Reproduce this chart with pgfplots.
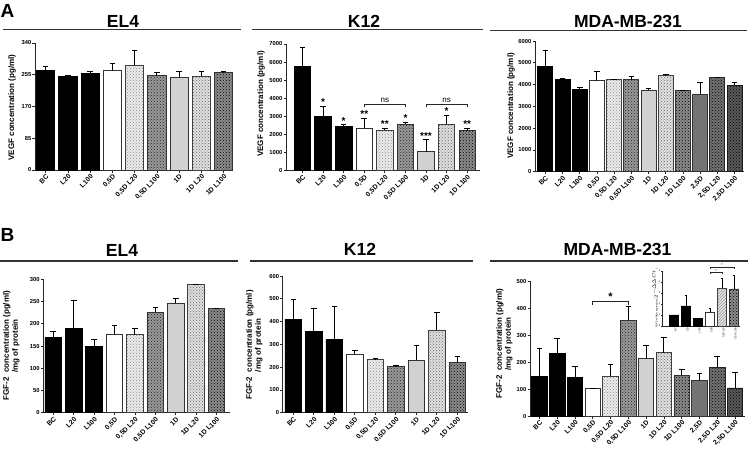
\documentclass[border=0pt]{standalone}
\usepackage{pgfplots}
\pgfplotsset{compat=1.18}
\usetikzlibrary{patterns}
\usepackage{fontspec}
\setmainfont{Liberation Sans}
\newcommand{\fs}[1]{\fontsize{#1}{#1}\selectfont}
\tikzset{
 bK/.style={fill=black,draw=black},
 bW/.style={fill=white,draw=black!80},
 bDL/.style={fill=black!8,draw=black!75,postaction={pattern=crosshatch dots,pattern color=black!45}},
 bST/.style={fill=black!40,draw=black!80,postaction={pattern=crosshatch dots,pattern color=black!85}},
 bG/.style={fill=black!18,draw=black!80},
 bDM/.style={fill=black!12,draw=black!75,postaction={pattern=crosshatch dots,pattern color=black!60}},
 bCK/.style={fill=black!45,draw=black!80,postaction={pattern=crosshatch dots,pattern color=black}},
 bMG/.style={fill=black!55,draw=black!80},
 bCK2/.style={fill=black!55,draw=black!85,postaction={pattern=crosshatch dots,pattern color=black}},
 bCK3/.style={fill=black!65,draw=black!90,postaction={pattern=crosshatch dots,pattern color=black}},
}
\pgfplotsset{
 gp/.style={
  scale only axis, anchor=south west,
  axis x line*=bottom, axis y line*=left,
  axis line style={line width=0.9pt, black!85},
  ymin=0, enlargelimits=false, clip=false,
  tick align=outside, major tick length=2.5pt,
  every tick/.append style={line width=0.8pt, black!85},
  ybar, every axis plot/.append style={bar shift=0pt, line width=0.8pt},
  error bars/y dir=plus, error bars/y explicit,
  error bars/error bar style={line width=0.9pt, black},
  error bars/error mark options={rotate=90, mark size=2.8pt, line width=0.9pt, black},
  y tick label style={font=\fs{5.8}\bfseries, inner sep=1pt},
  x tick label style={font=\fs{6.8}\bfseries, rotate=45, anchor=north east, inner sep=0.8pt},
  /pgf/number format/assume math mode=true, /pgf/number format/1000 sep={},
 }
}
\begin{document}
\begin{tikzpicture}[x=1pt,y=1pt]
\useasboundingbox (0,0) rectangle (749,451);
% ---------- panel letters, titles, lines ----------
\begin{scope}[every node/.style={inner sep=0pt}]
\node[font=\fs{19}\bfseries] at (7.5,440) {A};
\node[font=\fs{19}\bfseries] at (7.5,216) {B};
\node[font=\fs{17.5}\bfseries] at (123,429.3) {EL4};
\node[font=\fs{17.5}\bfseries] at (364,429.5) {K12};
\node[font=\fs{17.5}\bfseries] at (628,429.5) {MDA-MB-231};
\node[font=\fs{17.5}\bfseries] at (122,200.5) {EL4};
\node[font=\fs{17.5}\bfseries] at (360,201.5) {K12};
\node[font=\fs{17.5}\bfseries] at (617.5,201.3) {MDA-MB-231};
\end{scope}
\draw[line width=1.3pt, black!80] (3,421.5) -- (241,421.5);
\draw[line width=1.3pt, black!80] (252,421.5) -- (483,421.5);
\draw[line width=1.3pt, black!80] (490,420.8) -- (747,420.8);
\draw[line width=1.3pt, black!80] (0,190) -- (238,190);
\draw[line width=1.3pt, black!80] (250,190) -- (473,190);
\draw[line width=1.3pt, black!80] (490,190) -- (748,190);
% ---------- y labels ----------
\node[rotate=90, font=\fs{8}\bfseries, inner sep=0pt] at (12,343.5) {VEGF concentration (pg/ml)};
\node[rotate=90, font=\fs{8}\bfseries, inner sep=0pt] at (261,347) {VEGF concentration (pg/ml)};
\node[rotate=90, font=\fs{8}\bfseries, inner sep=0pt] at (511,345) {VEGF concentration (pg/ml)};
\node[rotate=90, font=\fs{8}\bfseries, align=left, inner sep=0pt] at (11.2,105.5) {FGF-2\ \ concentration (pg/ml)\\[1pt]\phantom{FGF-2\ \ }/mg of protein};
\node[rotate=90, font=\fs{8}\bfseries, align=left, inner sep=0pt] at (254.2,106) {FGF-2\ \ concentration (pg/ml)\\[1pt]\phantom{FGF-2\ \ }/mg of protein};
\node[rotate=90, font=\fs{8}\bfseries, align=left, inner sep=0pt] at (504.2,107.5) {FGF-2\ \ concentration (pg/ml)\\[1pt]\phantom{FGF-2\ \ }/mg of protein};

% ================= A : EL4 =================
\begin{axis}[gp, at={(35pt,281pt)}, width=198pt, height=127pt,
 xmin=-0.48, xmax=8.42, ymax=340, ytick={0,85,170,255,340}, bar width=0.82,
 xtick={0,...,8}, xticklabels={BC,L20,L100,{0,5D},{0,5D L20},{0,5D L100},1D,{1D L20},{1D L100}}]
\addplot[bK] coordinates {(0,267) +- (0,10) (1,251) +- (0,3) (2,259) +- (0,5)};
\addplot[bW] coordinates {(3,266) +- (0,20)};
\addplot[bDL] coordinates {(4,280) +- (0,39)};
\addplot[bST] coordinates {(5,253) +- (0,7)};
\addplot[bG] coordinates {(6,249) +- (0,14)};
\addplot[bDM] coordinates {(7,251) +- (0,14)};
\addplot[bCK] coordinates {(8,260) +- (0,3)};
\end{axis}

% ================= A : K12 =================
\begin{axis}[gp, at={(286pt,280.5pt)}, width=194pt, height=126.5pt,
 xmin=-0.8, xmax=8.62, ymax=7000, ytick={0,1000,...,7000}, bar width=0.8,
 xtick={0,...,8}, xticklabels={BC,L20,L100,{0,5D},{0,5D L20},{0,5D L100},1D,{1D L20},{1D L100}}]
\addplot[bK] coordinates {(0,5750) +- (0,1070) (1,3010) +- (0,540) (2,2460) +- (0,70)};
\addplot[bW] coordinates {(3,2330) +- (0,550)};
\addplot[bDL] coordinates {(4,2220) +- (0,110)};
\addplot[bST] coordinates {(5,2550) +- (0,110)};
\addplot[bG] coordinates {(6,1035) +- (0,665)};
\addplot[bDM] coordinates {(7,2550) +- (0,520)};
\addplot[bCK] coordinates {(8,2200) +- (0,150)};
\begin{scope}[every node/.style={font=\fs{10}\bfseries, anchor=south, inner sep=0.5pt}]
\node at (axis cs:1,3550) {*};
\node at (axis cs:2,2530) {*};
\node at (axis cs:3,2880) {**};
\node at (axis cs:4,2330) {**};
\node at (axis cs:5,2660) {*};
\node at (axis cs:6,1700) {***};
\node at (axis cs:7,3070) {*};
\node at (axis cs:8,2350) {**};
\end{scope}
\draw[line width=0.8pt, black!85] (axis cs:3,3490) -- (axis cs:3,3680) -- (axis cs:5,3680) -- (axis cs:5,3490);
\draw[line width=0.8pt, black!85] (axis cs:6,3490) -- (axis cs:6,3680) -- (axis cs:8,3680) -- (axis cs:8,3490);
\node[font=\fs{8}, anchor=south, inner sep=1pt] at (axis cs:4,3680) {ns};
\node[font=\fs{8}, anchor=south, inner sep=1pt] at (axis cs:7,3680) {ns};
\end{axis}

% ================= A : MDA-MB-231 =================
\begin{axis}[gp, at={(535pt,279.3pt)}, width=209pt, height=130.7pt,
 xmin=-0.6, xmax=11.55, ymax=6000, ytick={0,1000,...,6000}, bar width=0.87,
 xtick={0,...,11}, xticklabels={BC,L20,L100,{0,5D},{0,5D L20},{0,5D L100},1D,{1D L20},{1D L100},{2,5D},{2,5D L20},{2,5D L100}}]
\addplot[bK] coordinates {(0,4820) +- (0,740) (1,4230) +- (0,40) (2,3770) +- (0,100)};
\addplot[bW] coordinates {(3,4180) +- (0,410)};
\addplot[bDL] coordinates {(4,4230) +- (0,10)};
\addplot[bST] coordinates {(5,4230) +- (0,130)};
\addplot[bG] coordinates {(6,3740) +- (0,70)};
\addplot[bDM] coordinates {(7,4430) +- (0,30)};
\addplot[bCK] coordinates {(8,3720) +- (0,30)};
\addplot[bMG] coordinates {(9,3550) +- (0,550)};
\addplot[bCK2] coordinates {(10,4320) +- (0,0)};
\addplot[bCK3] coordinates {(11,3980) +- (0,110)};
\end{axis}

% ================= B : EL4 =================
\begin{axis}[gp, at={(43.3pt,38.3pt)}, width=186.7pt, height=133.4pt,
 xmin=-0.49, xmax=8.66, ymax=300, ytick={0,50,...,300}, bar width=0.82,
 xtick={0,...,8}, xticklabels={BC,L20,L100,{0,5D},{0,5D L20},{0,5D L100},1D,{1D L20},{1D L100}}]
\addplot[bK] coordinates {(0,169) +- (0,13) (1,190) +- (0,62) (2,148) +- (0,16)};
\addplot[bW] coordinates {(3,177) +- (0,19)};
\addplot[bDL] coordinates {(4,175) +- (0,14)};
\addplot[bST] coordinates {(5,226) +- (0,11)};
\addplot[bG] coordinates {(6,246) +- (0,11)};
\addplot[bDM] coordinates {(7,288) +- (0,1)};
\addplot[bCK] coordinates {(8,235) +- (0,0)};
\end{axis}

% ================= B : K12 =================
\begin{axis}[gp, at={(282.7pt,38.3pt)}, width=185.3pt, height=136.7pt,
 xmin=-0.52, xmax=8.52, ymax=600, ytick={0,100,...,600}, bar width=0.82,
 xtick={0,...,8}, xticklabels={BC,L20,L100,{0,5D},{0,5D L20},{0,5D L100},1D,{1D L20},{1D L100}}]
\addplot[bK] coordinates {(0,410) +- (0,85) (1,358) +- (0,99) (2,320) +- (0,148)};
\addplot[bW] coordinates {(3,256) +- (0,16)};
\addplot[bDL] coordinates {(4,233) +- (0,3)};
\addplot[bST] coordinates {(5,205) +- (0,2)};
\addplot[bG] coordinates {(6,230) +- (0,67)};
\addplot[bDM] coordinates {(7,361) +- (0,81)};
\addplot[bCK] coordinates {(8,220) +- (0,26)};
\end{axis}

% ================= B : MDA-MB-231 =================
\begin{axis}[gp, at={(530pt,35pt)}, width=215pt, height=135pt,
 xmin=-0.53, xmax=11.56, ymax=500, ytick={0,100,...,500}, bar width=0.87,
 xtick={0,...,11}, xticklabels={BC,L20,L100,{0,5D},{0,5D L20},{0,5D L100},1D,{1D L20},{1D L100},{2,5D},{2,5D L20},{2,5D L100}}]
\addplot[bK] coordinates {(0,148) +- (0,101) (1,233) +- (0,55) (2,143) +- (0,41)};
\addplot[bW] coordinates {(3,101) +- (0,0)};
\addplot[bDL] coordinates {(4,148) +- (0,42)};
\addplot[bST] coordinates {(5,354) +- (0,51)};
\addplot[bG] coordinates {(6,212) +- (0,48)};
\addplot[bDM] coordinates {(7,235) +- (0,55)};
\addplot[bCK] coordinates {(8,151) +- (0,23)};
\addplot[bMG] coordinates {(9,132) +- (0,25)};
\addplot[bCK2] coordinates {(10,180) +- (0,41)};
\addplot[bCK3] coordinates {(11,104) +- (0,56)};
\draw[line width=0.8pt, black!85] (axis cs:3,412) -- (axis cs:3,425) -- (axis cs:5,425) -- (axis cs:5,412);
\node[font=\fs{11}\bfseries, anchor=south, inner sep=0.5pt] at (axis cs:4,425) {*};
\end{axis}

% ================= inset =================
\begin{axis}[gp, at={(662pt,125pt)}, width=78pt, height=55pt,
 xmin=-1, xmax=5.5, ymax=5, ytick={0,...,5}, bar width=0.75,
 major tick length=1pt,
 axis line style={line width=0.4pt, black!85},
 every tick/.append style={line width=0.3pt},
 every axis plot/.append style={line width=0.4pt},
 error bars/error bar style={line width=0.4pt, black},
 error bars/error mark options={rotate=90, mark size=1.2pt, line width=0.4pt, black},
 y tick label style={font=\fs{2.5}, inner sep=0.5pt},
 x tick label style={font=\fs{2.5}, rotate=45, anchor=north east, inner sep=0.5pt},
 ylabel={FGF-2 mRNA expression ($2^{-\Delta\Delta Ct}$)}, ylabel style={font=\fs{2.5}, inner sep=0pt},
 xtick={0,...,5}, xticklabels={BC,L20,L100,{0,5D},{0,5D L20},{0,5D L100}}]
\addplot[bK] coordinates {(0,1.02) +- (0,0) (1,1.83) +- (0,0.97) (2,0.72) +- (0,0)};
\addplot[bW] coordinates {(3,1.23) +- (0,0.37)};
\addplot[fill=black!10, draw=black!75, postaction={pattern=north east lines, pattern color=black!40}] coordinates {(4,3.41) +- (0,0.93)};
\addplot[bCK] coordinates {(5,3.38) +- (0,1.2)};
\draw[line width=0.4pt, black!85] (axis cs:3,4.7) -- (axis cs:3,4.85) -- (axis cs:4,4.85) -- (axis cs:4,4.7);
\draw[line width=0.4pt, black!85] (axis cs:3,5.2) -- (axis cs:3,5.35) -- (axis cs:5,5.35) -- (axis cs:5,5.2);
\node[font=\fs{4}, anchor=south, inner sep=0.2pt] at (axis cs:3.5,4.85) {*};
\node[font=\fs{4}, anchor=south, inner sep=0.2pt] at (axis cs:4,5.35) {*};
\end{axis}
\end{tikzpicture}
\end{document}
